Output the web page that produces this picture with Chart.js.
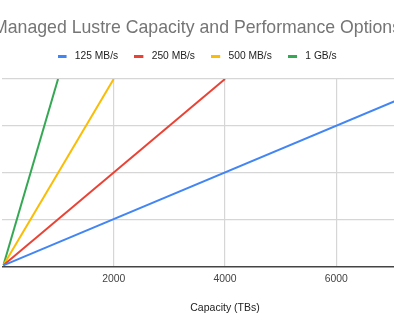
<!DOCTYPE html>
<html>
<head>
<meta charset="utf-8">
<script src="https://cdn.jsdelivr.net/npm/chart.js@4"></script>
<style>
  html, body { margin: 0; padding: 0; background: #ffffff; overflow: hidden; }
  #wrap { position: relative; width: 394px; height: 330px; overflow: hidden; }
  #c { position: absolute; left: -80px; top: 0; }
</style>
</head>
<body>
<div id="wrap"><canvas id="c" width="554" height="330"></canvas></div>
<script>
// ---- data ----
const chartTitle = 'Managed Lustre Capacity and Performance Options';
const xAxisTitle = 'Capacity (TBs)';
const seriesNames = ['125 MB/s', '250 MB/s', '500 MB/s', '1 GB/s'];
const seriesColors = ['#4285F4', '#EA4335', '#FBBC04', '#34A853'];
const capacity125 = [18, 8000];
const throughput125 = [9, 1000];
const capacity250 = [18, 4000];
const throughput250 = [9, 1000];
const capacity500 = [18, 2000];
const throughput500 = [9, 1000];
const capacity1000 = [18, 1000];
const throughput1000 = [9, 1000];
const xTickLabels = [2000, 4000, 6000];
const xMin = 0, xMax = 8000, xStep = 2000;
const yMin = 0, yMax = 1000, yStep = 250;

const seriesCaps = [capacity125, capacity250, capacity500, capacity1000];
const seriesVals = [throughput125, throughput250, throughput500, throughput1000];

const FONT = '"Liberation Sans", Arial, sans-serif';

const markers = seriesColors.map(c => {
  const cv = document.createElement('canvas');
  cv.width = 12; cv.height = 3;
  const g = cv.getContext('2d');
  g.fillStyle = c;
  g.fillRect(0, 0, 9, 3);
  return cv;
});

const datasets = seriesNames.map((name, i) => ({
  label: name,
  data: seriesCaps[i].map((x, j) => ({ x: x, y: seriesVals[i][j] })),
  borderColor: seriesColors[i],
  backgroundColor: seriesColors[i],
  borderWidth: 2,
  pointRadius: 0,
  pointHoverRadius: 0,
  tension: 0,
  fill: false,
  xAxisID: 'x',
  yAxisID: 'y'
}));

new Chart(document.getElementById('c'), {
  type: 'line',
  data: { datasets },
  options: {
    responsive: false,
    animation: false,
    events: [],
    layout: { padding: { left: 26.4, right: 26.4, top: 0, bottom: 0 } },
    plugins: {
      tooltip: { enabled: false },
      title: {
        display: true,
        text: chartTitle,
        color: '#757575',
        font: { family: FONT, size: 17.7, weight: 'normal', lineHeight: 0.5 },
        padding: { top: 23.475, bottom: 2.55 }
      },
      legend: {
        display: true,
        position: 'top',
        align: 'center',
        labels: {
          usePointStyle: true,
          pointStyleWidth: 12.4,
          padding: 16,
          color: '#222222',
          font: { family: FONT, size: 10.25 },
          generateLabels(chart) {
            const items = Chart.defaults.plugins.legend.labels.generateLabels(chart);
            items.forEach((it, i) => { it.pointStyle = markers[i]; });
            return items;
          }
        }
      }
    },
    scales: {
      x: {
        type: 'linear',
        position: 'bottom',
        min: xMin,
        max: xMax,
        afterFit(scale) { scale.height = 63; },
        ticks: {
          stepSize: xStep,
          padding: 5.5,
          maxRotation: 0,
          autoSkip: false,
          color: '#444444',
          font: { family: FONT, size: 10.4 },
          callback(v) { return xTickLabels.includes(v) ? String(v) : ''; }
        },
        grid: {
          drawTicks: false,
          lineWidth: 1.2,
          color(ctx) { return (ctx.tick && xTickLabels.includes(ctx.tick.value)) ? '#d6d6d6' : 'rgba(0,0,0,0)'; }
        },
        border: { display: true, color: '#444444', width: 1.6 },
        title: {
          display: true,
          text: xAxisTitle,
          color: '#222222',
          font: { family: FONT, size: 10.5 },
          padding: { top: 0, bottom: 16 }
        }
      },
      xTop: {
        type: 'linear',
        position: 'top',
        display: true,
        afterFit(scale) { scale.height = 7.875; },
        ticks: { display: false },
        grid: { display: false, drawTicks: false },
        border: { display: false }
      },
      y: {
        type: 'linear',
        position: 'left',
        min: yMin,
        max: yMax,
        afterFit(scale) { scale.width = 56; },
        ticks: { display: false, stepSize: yStep },
        grid: {
          drawTicks: false,
          lineWidth: 1.2,
          color(ctx) { return (ctx.tick && ctx.tick.value === 0) ? 'rgba(0,0,0,0)' : '#d6d6d6'; }
        },
        border: { display: false }
      }
    }
  }
});
</script>
</body>
</html>
